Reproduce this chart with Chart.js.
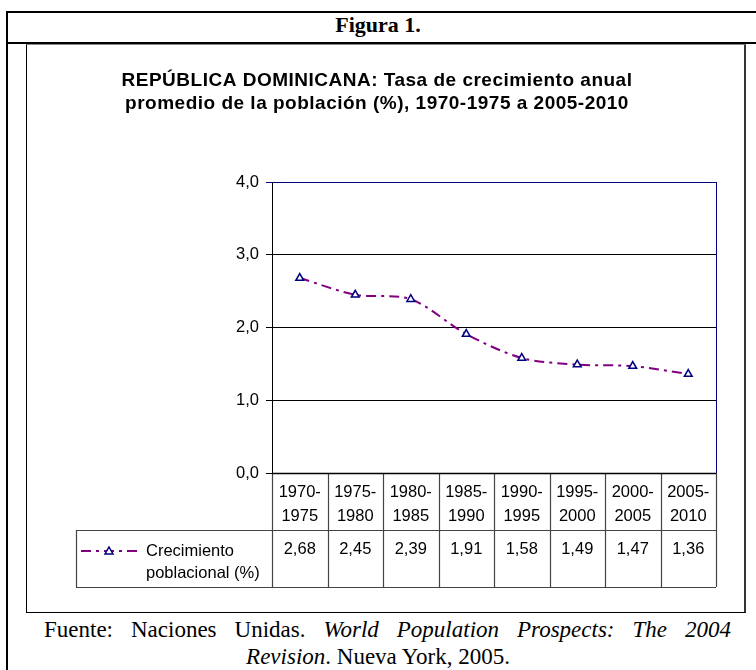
<!DOCTYPE html>
<html>
<head>
<meta charset="utf-8">
<script src="https://cdn.jsdelivr.net/npm/chart.js@4/dist/chart.umd.min.js"></script>
<style>
  html, body { margin: 0; padding: 0; background: #fff; width: 756px; height: 670px; overflow: hidden; }
  .abs { position: absolute; box-sizing: border-box; }
  #outer { left: 6px; top: 11px; width: 820px; height: 720px; border: 2px solid #000; }
  #headLine { left: 6px; top: 42px; width: 820px; height: 2px; background: #000; }
  #head { left: 0; top: 12px; width: 756px; height: 30px; line-height: 30px; text-align: center;
          font: bold 22px "Liberation Serif", "Times New Roman", serif; color: #000; }
  #frame { left: 26px; top: 44px; width: 720px; height: 569px; border: 1px solid #000; border-top-color: #888; border-right: 2px solid #333; }
  #wrap { left: 27px; top: 45px; width: 717px; height: 566px; }
  .foot { font: 23px "Liberation Serif", "Times New Roman", serif; color: #000; line-height: 27px; white-space: nowrap; }
  #foot1 { left: 44px; top: 616px; width: 687px; text-align: justify; text-align-last: justify; }
  #foot2 { left: 0; top: 643px; width: 756px; text-align: center; }
</style>
</head>
<body>
<div id="outer" class="abs"></div>
<div id="headLine" class="abs"></div>
<div id="head" class="abs">Figura 1.</div>
<div id="frame" class="abs"></div>
<div id="wrap" class="abs"><canvas id="c" width="717" height="566"></canvas></div>
<div id="foot1" class="abs foot">Fuente: Naciones Unidas. <i>World Population Prospects: The 2004</i></div>
<div id="foot2" class="abs foot"><i>Revision</i>. Nueva York, 2005.</div>

<script>
// Five-year periods and average annual growth rate (%)
const periods = ['1970-1975', '1975-1980', '1980-1985', '1985-1990', '1990-1995', '1995-2000', '2000-2005', '2005-2010'];
const growthRate = [2.68, 2.45, 2.39, 1.91, 1.58, 1.49, 1.47, 1.36];
const seriesLabel = ['Crecimiento', 'poblacional (%)'];
const titleLines = ['REPÚBLICA DOMINICANA: Tasa de crecimiento anual', 'promedio de la población (%), 1970-1975 a 2005-2010'];
const yTicks = [0, 1, 2, 3, 4];

const LINE_COLOR = '#800080';
const MARK_COLOR = '#000080';
const DASH = [10, 5, 3, 5];
const FONT = '"Liberation Sans", Arial, sans-serif';

const fmt = (v, d) => v.toFixed(d).replace('.', ',');

// Title and data table drawn below the plot area, aligned with the category scale
const tablePlugin = {
  id: 'dataTable',
  afterDraw(chart) {
    const ctx = chart.ctx;
    const area = chart.chartArea;
    const xs = chart.scales.x;
    const n = periods.length;
    const w = (area.right - area.left) / n;
    const row1 = area.bottom + 57;
    const row2 = row1 + 57;
    const legendLeft = 49;

    ctx.save();
    // title
    ctx.fillStyle = '#000';
    ctx.font = 'bold 19px ' + FONT;
    ctx.letterSpacing = '0.5px';
    ctx.textAlign = 'center';
    ctx.textBaseline = 'middle';
    titleLines.forEach((t, i) => ctx.fillText(t, 350, 36 + i * 23));
    ctx.letterSpacing = '0px';

    // plot frame: right edge in navy
    ctx.strokeStyle = MARK_COLOR;
    ctx.lineWidth = 1;
    ctx.beginPath();
    ctx.moveTo(Math.round(area.right) + 0.5, area.top);
    ctx.lineTo(Math.round(area.right) + 0.5, area.bottom);
    ctx.stroke();

    // table grid
    ctx.strokeStyle = '#444';
    ctx.lineWidth = 1.2;
    ctx.beginPath();
    for (let i = 0; i <= n; i++) {
      const x = Math.round(area.left + i * w) + 0.5;
      ctx.moveTo(x, area.bottom);
      ctx.lineTo(x, row2);
    }
    ctx.moveTo(legendLeft + 0.5, row1);
    ctx.lineTo(legendLeft + 0.5, row2);
    ctx.moveTo(legendLeft, Math.round(row1) + 0.5);
    ctx.lineTo(area.right, Math.round(row1) + 0.5);
    ctx.moveTo(legendLeft, Math.round(row2) + 0.5);
    ctx.lineTo(area.right, Math.round(row2) + 0.5);
    ctx.stroke();
    ctx.strokeStyle = '#000';
    ctx.lineWidth = 1.5;
    ctx.beginPath();
    ctx.moveTo(area.left, Math.round(area.bottom) + 0.5);
    ctx.lineTo(area.right, Math.round(area.bottom) + 0.5);
    ctx.stroke();

    // category labels and values
    ctx.fillStyle = '#000';
    ctx.font = '16.5px ' + FONT;
    ctx.textAlign = 'center';
    ctx.textBaseline = 'middle';
    periods.forEach((p, i) => {
      const cx = xs.getPixelForValue(i);
      const parts = p.split('-');
      ctx.fillText(parts[0] + '-', cx, area.bottom + 19);
      ctx.fillText(parts[1], cx, area.bottom + 43);
      ctx.fillText(fmt(growthRate[i], 2), cx, row1 + 19);
    });

    // legend key
    const ly = row1 + 21;
    ctx.strokeStyle = LINE_COLOR;
    ctx.lineWidth = 2;
    ctx.setLineDash(DASH);
    ctx.beginPath();
    ctx.moveTo(legendLeft + 5, ly);
    ctx.lineTo(legendLeft + 63, ly);
    ctx.stroke();
    ctx.setLineDash([]);
    const tx = legendLeft + 33;
    ctx.fillStyle = '#fff';
    ctx.strokeStyle = MARK_COLOR;
    ctx.lineWidth = 1.5;
    ctx.beginPath();
    ctx.moveTo(tx, ly - 4);
    ctx.lineTo(tx + 4, ly + 3);
    ctx.lineTo(tx - 4, ly + 3);
    ctx.closePath();
    ctx.fill();
    ctx.stroke();
    ctx.fillStyle = '#000';
    ctx.textAlign = 'left';
    ctx.fillText(seriesLabel[0], legendLeft + 70, ly);
    ctx.fillText(seriesLabel[1], legendLeft + 70, ly + 22);
    ctx.restore();
  }
};

Chart.defaults.font.family = FONT;
Chart.defaults.color = '#000';

new Chart(document.getElementById('c'), {
  type: 'line',
  data: {
    labels: periods,
    datasets: [{
      label: seriesLabel.join(' '),
      data: growthRate,
      borderColor: LINE_COLOR,
      borderWidth: 2,
      borderDash: DASH,
      pointStyle: 'triangle',
      pointRadius: 4.5,
      pointBorderWidth: 1.5,
      pointBorderColor: MARK_COLOR,
      pointBackgroundColor: '#fff',
      tension: 0.3,
      fill: false
    }]
  },
  options: {
    responsive: false,
    animation: false,
    layout: { padding: { left: 0, right: 28, top: 137, bottom: 138 } },
    plugins: { legend: { display: false }, title: { display: false }, tooltip: { enabled: false } },
    scales: {
      x: { display: false, offset: true },
      y: {
        min: 0, max: 4,
        afterBuildTicks(scale) { scale.ticks = yTicks.map(v => ({ value: v })); },
        afterFit(scale) { scale.width = 245; },
        ticks: { font: { size: 16.5 }, color: '#000', padding: 7, callback: v => fmt(v, 1) },
        grid: {
          color: ctx => (ctx.tick && ctx.tick.value === 4 ? MARK_COLOR : '#000'),
          lineWidth: 1,
          tickLength: 6,
          drawTicks: true
        },
        border: { color: '#000', width: 1 }
      }
    }
  },
  plugins: [tablePlugin]
});
</script>
</body>
</html>
